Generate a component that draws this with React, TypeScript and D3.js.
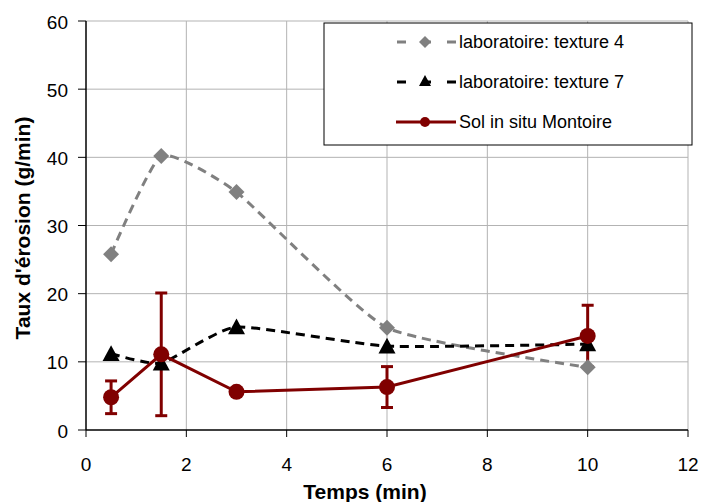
import React from "react";
import * as d3 from "d3";

const xTicks = [0, 2, 4, 6, 8, 10, 12];
const yTicks = [0, 10, 20, 30, 40, 50, 60];

const tex4X = [0.5, 1.5, 3, 6, 10];
const tex4Y = [25.8, 40.2, 34.9, 15.0, 9.2];

const tex7X = [0.5, 1.5, 3, 6, 10];
const tex7Y = [11.2, 9.8, 15.1, 12.3, 12.6];

const solX = [0.5, 1.5, 3, 6, 10];
const solY = [4.8, 11.1, 5.6, 6.3, 13.8];
const solErr = [2.4, 9.0, 0, 3.0, 4.5];

const seriesNames = ["laboratoire: texture 4", "laboratoire: texture 7", "Sol in situ Montoire"];

const W = 702, H = 502;
const left = 86, right = 688, top = 21, bottom = 430;
const FONT = "'Liberation Sans', Arial, sans-serif";

export default function App() {
  const x = d3.scaleLinear().domain([0, 12]).range([left, right]);
  const y = d3.scaleLinear().domain([0, 60]).range([bottom, top]);
  const smooth = d3.line<[number, number]>().x(d => x(d[0])).y(d => y(d[1])).curve(d3.curveCardinal.tension(0.5));
  const straight = d3.line<[number, number]>().x(d => x(d[0])).y(d => y(d[1]));

  const p4 = tex4X.map((v, i) => [v, tex4Y[i]] as [number, number]);
  const p7 = tex7X.map((v, i) => [v, tex7Y[i]] as [number, number]);
  const ps = solX.map((v, i) => [v, solY[i]] as [number, number]);

  const diamond = (cx: number, cy: number, r: number) => `M${cx},${cy - r}L${cx + r},${cy}L${cx},${cy + r}L${cx - r},${cy}Z`;
  const tri = (cx: number, cy: number, r: number) => `M${cx},${cy - r}L${cx + r},${cy + r * 0.85}L${cx - r},${cy + r * 0.85}Z`;

  const gray = "#808080", red = "#800000", grid = "#b3b3b3";
  const lx = 324, ly = 23, lw = 368, lh = 122;
  const legY = [42, 82, 122];

  return (
    <div style={{ position: "fixed", left: 0, top: 0 }}>
      <svg width={W} height={H} style={{ display: "block", background: "#fff" }} fontFamily={FONT}>
        {/* grid */}
        {xTicks.filter(t => t > 0).map(t => (
          <line key={"gx" + t} x1={x(t)} x2={x(t)} y1={top} y2={bottom} stroke={grid} strokeWidth={1} />
        ))}
        {yTicks.filter(t => t > 0).map(t => (
          <line key={"gy" + t} x1={left} x2={right} y1={y(t)} y2={y(t)} stroke={grid} strokeWidth={1} />
        ))}
        {/* axes */}
        <line x1={left} x2={left} y1={top} y2={bottom} stroke="#000" strokeWidth={1.5} />
        <line x1={left} x2={right} y1={bottom} y2={bottom} stroke="#000" strokeWidth={1.5} />
        {yTicks.map(t => (
          <g key={"yt" + t}>
            <line x1={left - 8} x2={left} y1={y(t)} y2={y(t)} stroke="#000" strokeWidth={1} />
            <text x={68} y={y(t) + 1} dy="0.35em" textAnchor="end" fontSize={19} fill="#000">{t}</text>
          </g>
        ))}
        {xTicks.map(t => (
          <g key={"xt" + t}>
            <line x1={x(t)} x2={x(t)} y1={bottom} y2={bottom + 7} stroke="#000" strokeWidth={1} />
            <text x={x(t)} y={471} textAnchor="middle" fontSize={19} fill="#000">{t}</text>
          </g>
        ))}
        <text x={365} y={499} textAnchor="middle" fontSize={21} fontWeight="bold">Temps (min)</text>
        <text transform={`translate(30,228) rotate(-90)`} textAnchor="middle" fontSize={21} fontWeight="bold">Taux d'érosion (g/min)</text>

        {/* lines */}
        <path d={smooth(p4) || ""} fill="none" stroke={gray} strokeWidth={3} strokeDasharray="9,6" />
        <path d={smooth(p7) || ""} fill="none" stroke="#000" strokeWidth={3} strokeDasharray="9,6" />
        <path d={straight(ps) || ""} fill="none" stroke={red} strokeWidth={3} />
        {/* error bars */}
        {ps.map((p, i) => solErr[i] > 0 ? (
          <g key={"e" + i} stroke={red} strokeWidth={3}>
            <line x1={x(p[0])} x2={x(p[0])} y1={y(p[1] - solErr[i])} y2={y(p[1] + solErr[i])} />
            <line x1={x(p[0]) - 6} x2={x(p[0]) + 6} y1={y(p[1] - solErr[i])} y2={y(p[1] - solErr[i])} />
            <line x1={x(p[0]) - 6} x2={x(p[0]) + 6} y1={y(p[1] + solErr[i])} y2={y(p[1] + solErr[i])} />
          </g>
        ) : null)}
        {/* markers */}
        {p4.map((p, i) => <path key={"d" + i} d={diamond(x(p[0]), y(p[1]), 8)} fill={gray} />)}
        {p7.map((p, i) => <path key={"t" + i} d={tri(x(p[0]), y(p[1]), 8.5)} fill="#000" />)}
        {ps.map((p, i) => <circle key={"c" + i} cx={x(p[0])} cy={y(p[1])} r={8} fill={red} />)}

        {/* legend */}
        <rect x={lx} y={ly} width={lw} height={lh} fill="#fff" stroke="#000" strokeWidth={1} />
        <g>
          <line x1={397} x2={456} y1={legY[0]} y2={legY[0]} stroke={gray} strokeWidth={3} strokeDasharray="9,16,9,16,9" />
          <path d={diamond(425, legY[0], 6)} fill={gray} />
          <line x1={397} x2={456} y1={legY[1]} y2={legY[1]} stroke="#000" strokeWidth={3} strokeDasharray="9,16,9,16,9" />
          <path d={tri(425, legY[1] - 1, 6)} fill="#000" />
          <line x1={396} x2={456} y1={legY[2]} y2={legY[2]} stroke={red} strokeWidth={3} />
          <circle cx={425} cy={legY[2]} r={5} fill={red} />
          {seriesNames.map((n, i) => (
            <text key={n} x={459} y={legY[i]} dy="0.35em" fontSize={18} fill="#000">{n}</text>
          ))}
        </g>
      </svg>
    </div>
  );
}
